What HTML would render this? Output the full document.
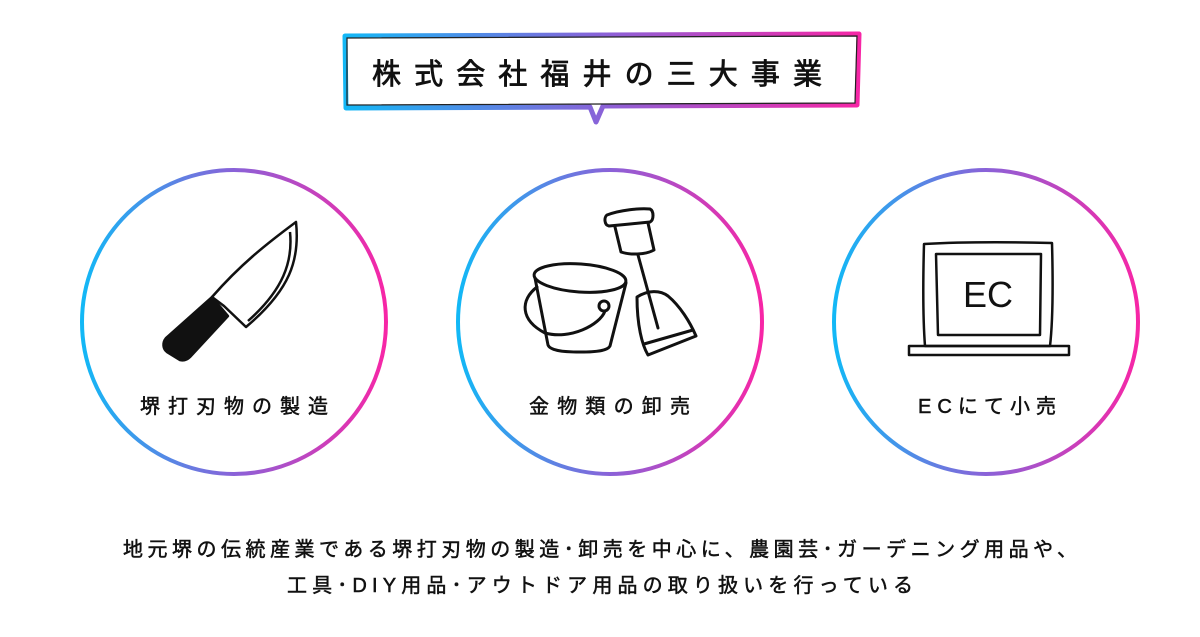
<!DOCTYPE html>
<html><head><meta charset="utf-8"><style>
html,body{margin:0;padding:0;background:#fff;}
svg{display:block;}
text{font-family:"Liberation Sans","Noto Sans CJK JP",sans-serif;fill:#111;stroke:#111;stroke-width:0.5;}
</style></head><body>
<svg width="1200" height="637" viewBox="0 0 1200 637" xmlns="http://www.w3.org/2000/svg">
<defs>
<linearGradient id="g" x1="0" y1="0" x2="1" y2="0">
<stop offset="0" stop-color="#12b8f6"/><stop offset="0.5" stop-color="#8a62d8"/><stop offset="1" stop-color="#f726a6"/>
</linearGradient>
<linearGradient id="gb" gradientUnits="userSpaceOnUse" x1="343" y1="0" x2="861" y2="0">
<stop offset="0" stop-color="#12b8f6"/><stop offset="0.5" stop-color="#8a62d8"/><stop offset="1" stop-color="#f726a6"/>
</linearGradient>
</defs>
<path d="M345 36 L859 34 L857 105 L603 106 L596 122 L590 107 L346 108 Z" fill="#fff" stroke="url(#gb)" stroke-width="5" stroke-linejoin="round"/>
<path d="M347 38 L857 36 L855 103 L347 105 Z" fill="none" stroke="#222" stroke-width="1.2"/>
<text x="372" y="84" font-size="29" textLength="450" lengthAdjust="spacing" style="stroke-width:0.8">株式会社福井の三大事業</text>
<circle cx="234" cy="322" r="152" fill="none" stroke="url(#g)" stroke-width="4"/>
<circle cx="610" cy="322" r="152" fill="none" stroke="url(#g)" stroke-width="4"/>
<circle cx="986" cy="322" r="152" fill="none" stroke="url(#g)" stroke-width="4"/>
<g stroke="#111" stroke-width="2.5" fill="none" stroke-linejoin="round">
<path d="M296 222 C300 260 290 290 246 327 L224 306 L212 297 C240 265 265 245 296 222 Z" fill="#fff"/>
<path d="M290 232 C293 262 283 290 248 321"/>
<path d="M212 297 L166 338 C162 343 163 349 167 352 L180 360 C184 361 187 360 190 357 L228 316 Z" fill="#111"/>
</g>
<g stroke="#111" stroke-width="3" fill="none" stroke-linecap="round" stroke-linejoin="round">
<ellipse cx="580" cy="278" rx="46" ry="14" transform="rotate(4 580 278)"/>
<path d="M535 278 L548 345 C550 350 560 352 580 352 C600 352 608 350 610 346 L626 283"/>
<path d="M537 287 C520 300 520 320 545 333 C570 340 600 325 605 311"/>
<circle cx="604" cy="306" r="5"/>
<path d="M607 215 C620 210 640 208 650 209 C654 211 654 220 650 222 C640 223 620 225 609 226 C604 225 604 217 607 215 Z"/>
<path d="M615 227 L621 252 C630 255 645 255 654 250 L648 223"/>
<path d="M638 255 L658 328"/>
<path d="M637 297 C648 290 660 290 668 296 C680 306 690 322 696 336 L648 355 C642 345 637 325 637 297 Z"/>
<path d="M644 344 L693 330"/>
</g>
<g stroke="#111" stroke-width="2.5" fill="none" stroke-linejoin="round">
<path d="M924 244 C960 242 1010 242 1052 243 C1053 280 1053 320 1050 346 L925 346 C923 320 923 280 924 244 Z"/>
<path d="M936 254 L1041 254 L1040 335 L938 335 Z"/>
<path d="M909 346 L1069 346 L1069 355 L909 355 Z"/>
</g>
<text x="988" y="307" font-size="36" text-anchor="middle" style="stroke-width:0">EC</text>
<text x="140" y="413" font-size="20" textLength="188" lengthAdjust="spacing">堺打刃物の製造</text>
<text x="529" y="413" font-size="20" textLength="161" lengthAdjust="spacing">金物類の卸売</text>
<text x="918" y="413" font-size="20" textLength="138" lengthAdjust="spacing">ECにて小売</text>
<text x="123" y="556" font-size="20" textLength="954" lengthAdjust="spacing">地元堺の伝統産業である堺打刃物の製造･卸売を中心に、農園芸･ガーデニング用品や、</text>
<text x="287" y="592" font-size="20" textLength="626" lengthAdjust="spacing">工具･DIY用品･アウトドア用品の取り扱いを行っている</text>
</svg>
</body></html>
